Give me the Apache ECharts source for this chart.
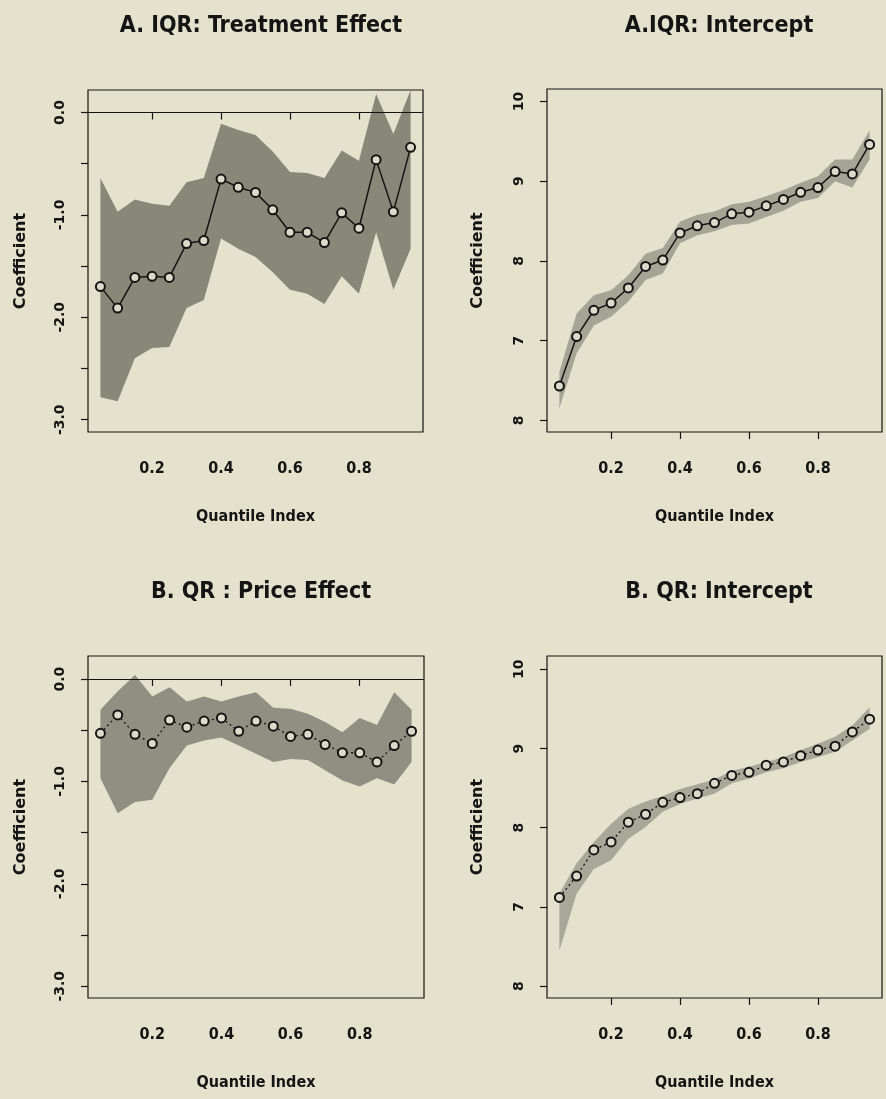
<!DOCTYPE html>
<html>
<head>
<meta charset="utf-8">
<script src="https://cdn.jsdelivr.net/npm/echarts@6/dist/echarts.min.js"></script>
<style>
html,body{margin:0;padding:0;background:#e4e2cd;}
#chart{width:886px;height:1099px;}
</style>
</head>
<body>
<div id="chart"></div>
<script>
// ---------- data ----------
const quantiles = [0.05,0.10,0.15,0.20,0.25,0.30,0.35,0.40,0.45,0.50,0.55,0.60,0.65,0.70,0.75,0.80,0.85,0.90,0.95];

const titles = ['A. IQR: Treatment Effect','A.IQR: Intercept','B. QR : Price Effect','B. QR: Intercept'];
const xTickValues = [0.2,0.4,0.6,0.8];
const xTickLabels = ['0.2','0.4','0.6','0.8'];
const effTickValues = [-3,-2,-1,0];
const effTickLabels = ['-3.0','-2.0','-1.0','0.0'];
const effMinorTicks = [-3,-2.5,-2,-1.5,-1,-0.5,0];
const intTickValues = [6,7,8,9,10];
const intTickLabels = ['8','7','8','9','10'];
const xName = 'Quantile Index';
const yName = 'Coefficient';

// A. IQR treatment effect
const aEff      = [-1.70,-1.91,-1.61,-1.60,-1.61,-1.28,-1.25,-0.65,-0.73,-0.78,-0.95,-1.17,-1.17,-1.27,-0.98,-1.13,-0.46,-0.97,-0.34];
const aEffUpper = [-0.64,-0.97,-0.85,-0.89,-0.91,-0.68,-0.64,-0.11,-0.17,-0.22,-0.38,-0.58,-0.59,-0.64,-0.37,-0.47,0.18,-0.21,0.22];
const aEffLower = [-2.78,-2.82,-2.40,-2.30,-2.29,-1.91,-1.83,-1.23,-1.33,-1.41,-1.56,-1.73,-1.77,-1.87,-1.60,-1.77,-1.17,-1.73,-1.33];

// A. IQR intercept
const aInt      = [6.43,7.05,7.38,7.47,7.66,7.93,8.01,8.35,8.44,8.48,8.59,8.61,8.69,8.77,8.86,8.92,9.12,9.09,9.46];
const aIntUpper = [6.61,7.34,7.57,7.63,7.82,8.09,8.16,8.49,8.58,8.62,8.71,8.74,8.81,8.89,8.98,9.06,9.27,9.27,9.64];
const aIntLower = [6.15,6.84,7.19,7.30,7.49,7.76,7.84,8.22,8.32,8.37,8.45,8.47,8.55,8.63,8.74,8.79,9.00,8.92,9.27];

// B. QR price effect
const bEff      = [-0.53,-0.35,-0.54,-0.63,-0.40,-0.47,-0.41,-0.38,-0.51,-0.41,-0.46,-0.56,-0.54,-0.64,-0.72,-0.72,-0.81,-0.65,-0.51];
const bEffUpper = [-0.30,-0.12,0.04,-0.17,-0.08,-0.22,-0.17,-0.22,-0.17,-0.13,-0.28,-0.29,-0.34,-0.42,-0.52,-0.38,-0.45,-0.13,-0.30];
const bEffLower = [-0.97,-1.31,-1.20,-1.18,-0.87,-0.65,-0.60,-0.57,-0.65,-0.73,-0.81,-0.78,-0.79,-0.89,-0.99,-1.05,-0.97,-1.03,-0.81];

// B. QR intercept
const bInt      = [7.12,7.39,7.72,7.82,8.07,8.17,8.32,8.38,8.43,8.56,8.66,8.70,8.79,8.83,8.91,8.98,9.03,9.21,9.37];
const bIntUpper = [7.17,7.55,7.82,8.05,8.24,8.33,8.40,8.49,8.55,8.61,8.72,8.77,8.83,8.89,8.98,9.06,9.15,9.29,9.52];
const bIntLower = [6.45,7.17,7.48,7.59,7.86,8.01,8.20,8.30,8.37,8.43,8.56,8.62,8.70,8.75,8.83,8.89,8.96,9.10,9.25];

// ---------- layout & style ----------
const NARROW = "'Liberation Sans Narrow','DejaVu Sans Condensed',sans-serif";
const WIDE = "'DejaVu Sans',sans-serif";
const INK = '#141414';

const grids = [
  {left:88,  top:90,  width:335, height:342},
  {left:547, top:89,  width:335, height:343},
  {left:88,  top:656, width:336, height:342},
  {left:547, top:656, width:335, height:342}
];
const titlePos = [[256,10],[714,10],[256,576],[714,576]];
const yRanges = [[-3.12,0.22],[5.853,10.156],[-3.115,0.225],[5.85,10.168]];

const chart = echarts.init(document.getElementById('chart'), null, {renderer:'canvas'});

function xAxis(i){
  return {
    type:'value', gridIndex:i, min:0.014, max:0.986,
    axisLine:{show:false}, splitLine:{show:false},
    axisTick:{show:true, inside:false, length:7, customValues:xTickValues, lineStyle:{color:INK,width:1.2}},
    axisLabel:{show:true, margin:29, customValues:xTickValues,
      formatter:(v)=>xTickLabels[xTickValues.findIndex(t=>Math.abs(t-v)<1e-9)],
      fontFamily:NARROW, fontWeight:'bold', fontSize:16, color:INK},
    name:xName, nameLocation:'middle', nameGap:77,
    nameTextStyle:{fontFamily:NARROW, fontSize:16, fontWeight:'bold', color:INK}
  };
}
function yAxis(i){
  const eff = (i===0 || i===2);
  const vals = eff ? effTickValues : intTickValues;
  const labs = eff ? effTickLabels : intTickLabels;
  return {
    type:'value', gridIndex:i, min:yRanges[i][0], max:yRanges[i][1],
    axisLine:{show:false}, splitLine:{show:false},
    axisTick:{show:true, inside:false, length:7, customValues: eff ? effMinorTicks : intTickValues, lineStyle:{color:INK,width:1.2}},
    axisLabel:{show:true, rotate:90, margin:21, customValues:vals,
      formatter:(v)=>labs[vals.findIndex(t=>Math.abs(t-v)<1e-9)],
      fontFamily:WIDE, fontWeight:'bold', fontSize:14, color:INK},
    name:yName, nameLocation:'middle', nameRotate:90, nameGap: eff ? 59 : 61,
    nameTextStyle:{fontFamily:WIDE, fontSize:16, fontWeight:'bold', color:INK}
  };
}
function band(i, lower, upper, color){
  return {
    type:'custom', xAxisIndex:i, yAxisIndex:i, silent:true, z:1, clip:true,
    data: quantiles.map((q,k)=>[q, lower[k], upper[k]]),
    encode:{x:0, y:[1,2]},
    renderItem:(params, api)=>{
      if (params.dataIndex !== 0) return null;
      const pts = [];
      for (let k=0;k<quantiles.length;k++) pts.push(api.coord([quantiles[k], upper[k]]));
      for (let k=quantiles.length-1;k>=0;k--) pts.push(api.coord([quantiles[k], lower[k]]));
      return {type:'polygon', shape:{points:pts}, style:{fill:color, stroke:null}};
    }
  };
}
function line(i, vals, dashed, zeroLine){
  const s = {
    type:'line', xAxisIndex:i, yAxisIndex:i, z:3,
    data: quantiles.map((q,k)=>[q, vals[k]]),
    symbol:'circle', symbolSize:9, showSymbol:true,
    itemStyle:{color:'#dcdacb', borderColor:INK, borderWidth:2},
    lineStyle:{color:INK, width: dashed ? 1.3 : 1.5, type: dashed ? [2,3] : 'solid'},
    emphasis:{disabled:true}, animation:false
  };
  if (zeroLine) {
    s.markLine = {silent:true, symbol:['none','none'], label:{show:false},
      lineStyle:{color:INK, type:'solid', width:1.2}, data:[{yAxis:0}], animation:false};
  }
  return s;
}

const option = {
  backgroundColor:'#e4e2cd',
  animation:false,
  title: titles.map((t,i)=>({
    text:t, left:titlePos[i][0], top:titlePos[i][1], textAlign:'center',
    textStyle:{fontFamily:NARROW, fontWeight:'bold', fontSize:23, color:INK}
  })),
  grid: grids.map(g=>Object.assign({show:true, borderColor:INK, borderWidth:1.2, backgroundColor:'transparent', containLabel:false}, g)),
  xAxis: [0,1,2,3].map(xAxis),
  yAxis: [0,1,2,3].map(yAxis),
  series: [
    band(0, aEffLower, aEffUpper, '#888879'),
    line(0, aEff, false, true),
    band(1, aIntLower, aIntUpper, '#a5a596'),
    line(1, aInt, false, false),
    band(2, bEffLower, bEffUpper, '#909082'),
    line(2, bEff, true, true),
    band(3, bIntLower, bIntUpper, '#a8a899'),
    line(3, bInt, true, false)
  ]
};
chart.setOption(option);
</script>
</body>
</html>
